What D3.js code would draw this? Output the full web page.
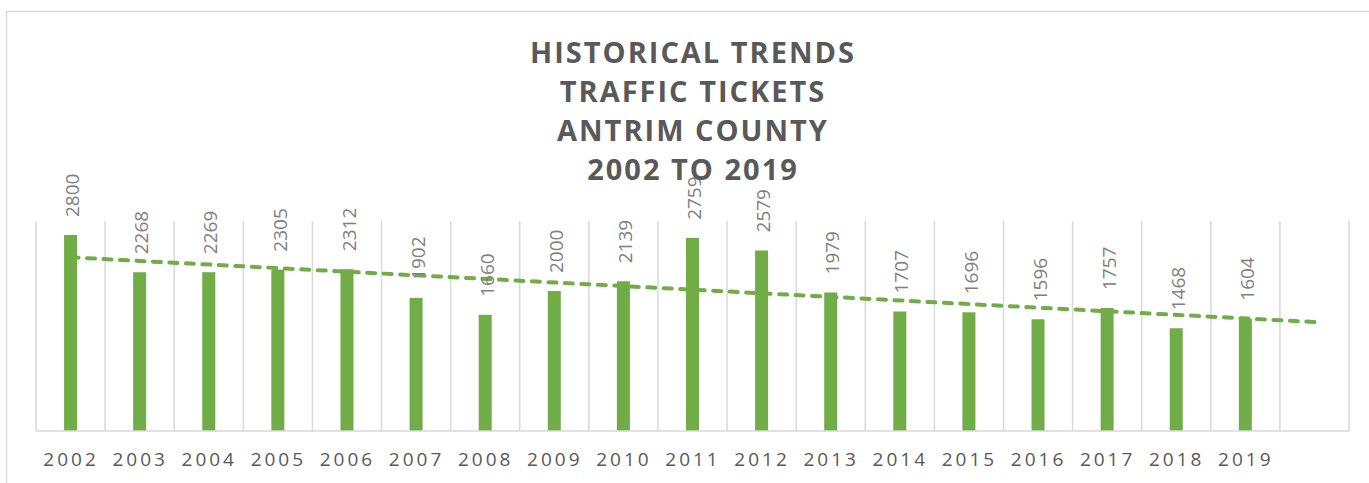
<!DOCTYPE html>
<html>
<head>
<meta charset="utf-8">
<script src="https://cdn.jsdelivr.net/npm/d3@7"></script>
<style>
    body { margin: 0; background: #fff; }
    svg { display: block; }
</style>
</head>
<body>
<script>
// chart data
let years = ["2002", "2003", "2004", "2005", "2006", "2007", "2008", "2009", "2010",
    "2011", "2012", "2013", "2014", "2015", "2016", "2017", "2018", "2019"];
let tickets = [2800, 2268, 2269, 2305, 2312, 1902, 1660, 2000, 2139,
    2759, 2579, 1979, 1707, 1696, 1596, 1757, 1468, 1604];
let titleLines = ["HISTORICAL TRENDS", "TRAFFIC TICKETS", "ANTRIM COUNTY", "2002 TO 2019"];

function main() {

    let svg = d3.select("body").append("svg")
        .attr("width", 1369)
        .attr("height", 483);

    // outer chart border (runs off the right / bottom edge)
    svg.append("rect")
        .attr("x", 6.5)
        .attr("y", 11.5)
        .attr("width", 1400)
        .attr("height", 500)
        .attr("fill", "none")
        .attr("stroke", "#d9d9d9")
        .attr("stroke-width", 1.5);

    // one extra empty slot at the end, for the trendline forecast
    let xScale = d3.scaleLinear().domain([0, years.length + 1]).range([36, 1349]);
    let yScale = d3.scaleLinear().domain([0, 3000]).range([431, 221]);
    let barW = 13;

    // vertical gridlines
    svg.append("g")
        .selectAll("line")
        .data(d3.range(years.length + 2))
        .enter()
        .append("line")
        .attr("x1", d => xScale(d))
        .attr("x2", d => xScale(d))
        .attr("y1", yScale(3000))
        .attr("y2", yScale(0))
        .attr("stroke", "#d9d9d9")
        .attr("stroke-width", 1.5);

    // trendline (linear fit over x = 1..n, forecast forward one period)
    let n = tickets.length;
    let xs = d3.range(1, n + 1);
    let mx = d3.mean(xs), my = d3.mean(tickets);
    let slope = d3.sum(xs, (x, i) => (x - mx) * (tickets[i] - my)) / d3.sum(xs, x => (x - mx) * (x - mx));
    let icpt = my - slope * mx;
    let trend = [1, n + 1].map(x => ({ x: x, y: icpt + slope * x }));

    svg.append("path")
        .datum(trend)
        .attr("d", d3.line().x(d => xScale(d.x - 0.5)).y(d => yScale(d.y)))
        .attr("fill", "none")
        .attr("stroke", "#70ad47")
        .attr("stroke-width", 4)
        .attr("stroke-linecap", "round")
        .attr("stroke-dasharray", "8,8.5");

    // bars
    svg.append("g")
        .selectAll("rect")
        .data(tickets)
        .enter()
        .append("rect")
        .attr("x", (d, i) => xScale(i + 0.5) - barW / 2)
        .attr("y", d => yScale(d))
        .attr("width", barW)
        .attr("height", d => yScale(0) - yScale(d))
        .attr("fill", "#70ad47");

    // axis baseline
    svg.append("line")
        .attr("x1", xScale(0))
        .attr("x2", xScale(years.length + 1))
        .attr("y1", yScale(0))
        .attr("y2", yScale(0))
        .attr("stroke", "#d9d9d9")
        .attr("stroke-width", 1.5);

    // year labels
    let xAxis = d3.axisBottom(xScale)
        .tickValues(d3.range(years.length).map(i => i + 0.5))
        .tickFormat(d => years[d - 0.5])
        .tickSize(0)
        .tickPadding(22);

    let axisG = svg.append("g")
        .attr("transform", `translate(0,${yScale(0)})`)
        .call(xAxis);
    axisG.select(".domain").remove();
    axisG.selectAll("text")
        .attr("dx", "0")
        .style("font-family", "'Open Sans', sans-serif")
        .style("font-size", "19px")
        .style("letter-spacing", "3px")
        .attr("fill", "#595959");

    // value labels, rotated
    svg.append("g")
        .selectAll("text")
        .data(tickets)
        .enter()
        .append("text")
        .attr("transform", (d, i) => `translate(${xScale(i + 0.5) + 2},${yScale(d) - 18}) rotate(-90)`)
        .attr("dy", "0.35em")
        .style("font-family", "'Open Sans', sans-serif")
        .style("font-size", "19px")
        .attr("fill", "#808080")
        .text(d => d);

    // title
    svg.append("g")
        .selectAll("text")
        .data(titleLines)
        .enter()
        .append("text")
        .attr("x", 693)
        .attr("y", (d, i) => 63 + i * 39)
        .attr("text-anchor", "middle")
        .style("font-family", "'Open Sans', sans-serif")
        .style("font-weight", "bold")
        .style("font-size", "29px")
        .style("letter-spacing", "2px")
        .attr("fill", "#595959")
        .text(d => d);
}

main()
</script>
</body>
</html>
